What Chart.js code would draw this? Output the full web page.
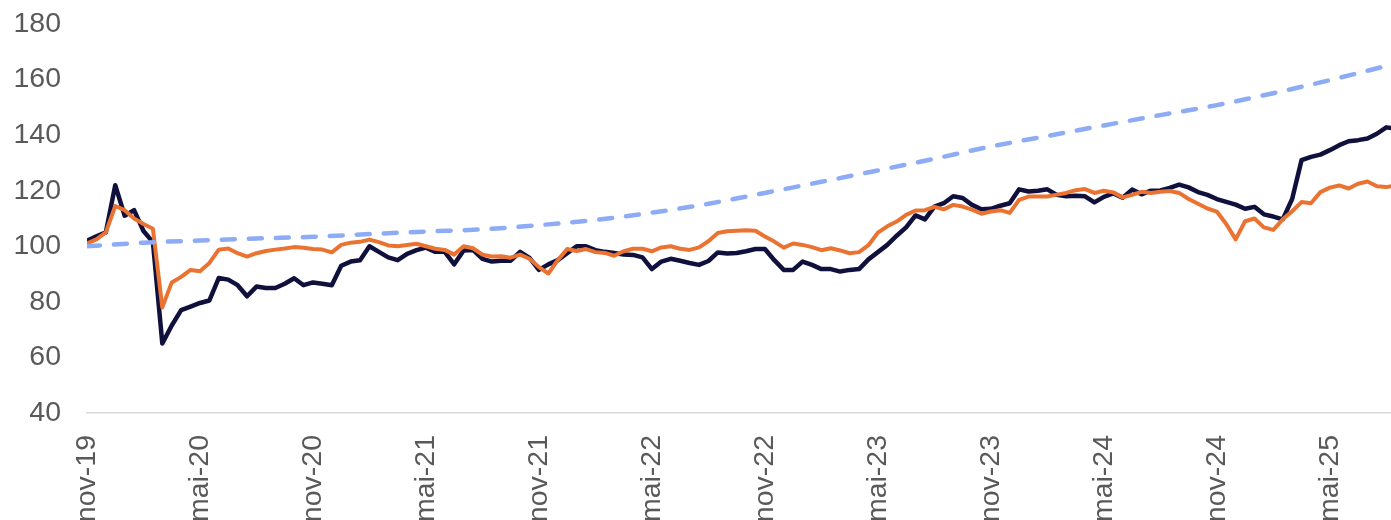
<!DOCTYPE html>
<html>
<head>
<meta charset="utf-8">
<script src="https://cdn.jsdelivr.net/npm/chart.js@4"></script>
<style>
  html, body { margin: 0; padding: 0; background: #fff; }
  #wrap { width: 1391px; height: 520px; }
</style>
</head>
<body>
<div id="wrap"><canvas id="chart"></canvas></div>
<script>
// half-month steps since nov-19
const months = Array.from({ length: 140 }, (_, i) => i / 2);

// dark line
const fundValues = [
  102, 103.6, 105, 122, 111, 113, 105.5, 101.5, 65, 71.5,
  77, 78.3, 79.6, 80.5, 88.6, 88, 86, 82, 85.5, 85,
  85, 86.5, 88.5, 86, 87, 86.5, 86, 93, 94.5, 95,
  100, 98, 96, 95, 97.3, 98.6, 99.5, 98, 98, 93.5,
  98.5, 98.7, 95.5, 94.5, 94.8, 94.8, 98, 95.8, 91.5, 93.5,
  95, 97.5, 100, 100, 98.6, 98, 97.6, 97, 96.9, 96,
  91.8, 94.5, 95.5, 94.8, 94, 93.3, 94.7, 97.8, 97.4, 97.6,
  98.2, 99, 99, 95, 91.5, 91.5, 94.5, 93.3, 91.8, 91.8,
  90.9, 91.5, 91.8, 95.3, 97.9, 100.5, 103.8, 106.8, 111.1, 109.7,
  114.3, 115.5, 118, 117.4, 114.9, 113.3, 113.5, 114.6, 115.5, 120.5,
  119.7, 120, 120.5, 118.5, 118, 118.2, 118, 115.8, 117.8, 119,
  117.5, 120.4, 118.7, 120, 120.1, 121, 122.2, 121.2, 119.5, 118.5,
  117, 116, 115, 113.5, 114.2, 111.5, 110.7, 109.7, 117, 131,
  132.2, 133, 134.6, 136.4, 137.8, 138.2, 138.8, 140.5, 142.8, 142.3
];

// orange line
const benchmarkValues = [
  101, 102.5, 105, 114.5, 113, 110, 108, 106.3, 78, 87,
  89, 91.5, 91, 94, 98.8, 99.2, 97.5, 96.3, 97.5, 98.3,
  98.8, 99.2, 99.7, 99.5, 99, 98.8, 97.8, 100.5, 101.3, 101.6,
  102.4, 101.5, 100.3, 100, 100.5, 100.9, 100, 99.1, 98.7, 97,
  100, 99.3, 97, 96.3, 96.4, 95.9, 97, 95.5, 92.5, 90.2,
  95, 99, 98.3, 99, 97.9, 97.6, 96.6, 98.2, 99.1, 99.1,
  98.2, 99.6, 100, 99.1, 98.7, 99.6, 101.8, 104.8, 105.4, 105.6,
  105.8, 105.6, 103.5, 101.7, 99.5, 101, 100.5, 99.7, 98.6, 99.3,
  98.5, 97.5, 97.9, 100.4, 104.9, 107.2, 108.9, 111.3, 112.9, 113,
  114.2, 113.3, 114.9, 114.3, 113.2, 111.7, 112.5, 113, 112, 116.7,
  117.9, 117.9, 117.9, 118.6, 119.2, 120.2, 120.6, 119.2, 120, 119.4,
  117.6, 118.5, 119.6, 119.2, 119.6, 119.9, 119.2, 117, 115.3, 113.6,
  112.5, 108, 102.5, 109, 110, 106.8, 105.9, 109.7, 112.6, 115.9,
  115.5, 119.5, 121.1, 121.9, 120.8, 122.5, 123.3, 121.6, 121.3, 121.9
];

// dashed target, every 3 months
const targetMonths = [0, 3, 6, 9, 12, 15, 18, 21, 24, 27, 30, 33, 36, 39, 42, 45, 48, 51, 54, 57, 60, 63, 66, 69, 72];
const targetValues = [100, 101.3, 102.1, 102.8, 103.4, 104.4, 105.3, 106.1, 107.6, 109.5, 112.1, 115.3, 119.2,
  123.2, 127.3, 131.5, 135.9, 139.7, 143.5, 147.2, 150.8, 155.1, 159.8, 164.9, 170];

const tickMonths = [0, 6, 12, 18, 24, 30, 36, 42, 48, 54, 60, 66];
const tickLabels = ["nov-19", "mai-20", "nov-20", "mai-21", "nov-21", "mai-22",
  "nov-22", "mai-23", "nov-23", "mai-24", "nov-24", "mai-25"];

const toPoints = (xs, ys) => ys.map((y, i) => ({ x: xs[i], y: y }));

const tickFont = { family: "'Liberation Sans', Arial, sans-serif", size: 28.5 };

new Chart(document.getElementById("chart"), {
  type: "line",
  data: {
    datasets: [
      {
        data: toPoints(targetMonths, targetValues),
        borderColor: "#8eabf6",
        borderWidth: 4.5,
        borderDash: [13, 14],
        borderCapStyle: "round",
        cubicInterpolationMode: "monotone",
        order: 0,
      },
      {
        data: toPoints(months, benchmarkValues),
        borderColor: "#eb7332",
        borderWidth: 4,
        order: 1,
      },
      {
        data: toPoints(months, fundValues),
        borderColor: "#10103c",
        borderWidth: 4.5,
        order: 2,
      },
    ],
  },
  options: {
    responsive: true,
    maintainAspectRatio: false,
    animation: false,
    layout: { padding: { top: 24, right: 0, bottom: 0, left: 0 } },
    elements: {
      point: { radius: 0 },
      line: { tension: 0, borderJoinStyle: "round" },
    },
    plugins: {
      legend: { display: false },
      tooltip: { enabled: false },
    },
    scales: {
      x: {
        type: "linear",
        min: 0,
        max: 69.25,
        grid: { display: false, drawTicks: false },
        border: { display: true, color: "#d9d9d9", width: 1.5 },
        afterBuildTicks: (axis) => {
          axis.ticks = tickMonths.map((v) => ({ value: v }));
        },
        afterFit: (axis) => {
          axis.height = 107;
        },
        ticks: {
          autoSkip: false,
          minRotation: 90,
          maxRotation: 90,
          padding: 22,
          color: "#595959",
          font: tickFont,
          callback: (v) => tickLabels[tickMonths.indexOf(v)],
        },
      },
      y: {
        min: 40,
        max: 180,
        grid: { display: false, drawTicks: false },
        border: { display: false },
        afterFit: (axis) => {
          axis.width = 87;
          axis.paddingTop = 0;
          axis.paddingBottom = 0;
        },
        ticks: {
          stepSize: 20,
          padding: 26,
          color: "#595959",
          font: tickFont,
        },
      },
    },
  },
});
</script>
</body>
</html>
